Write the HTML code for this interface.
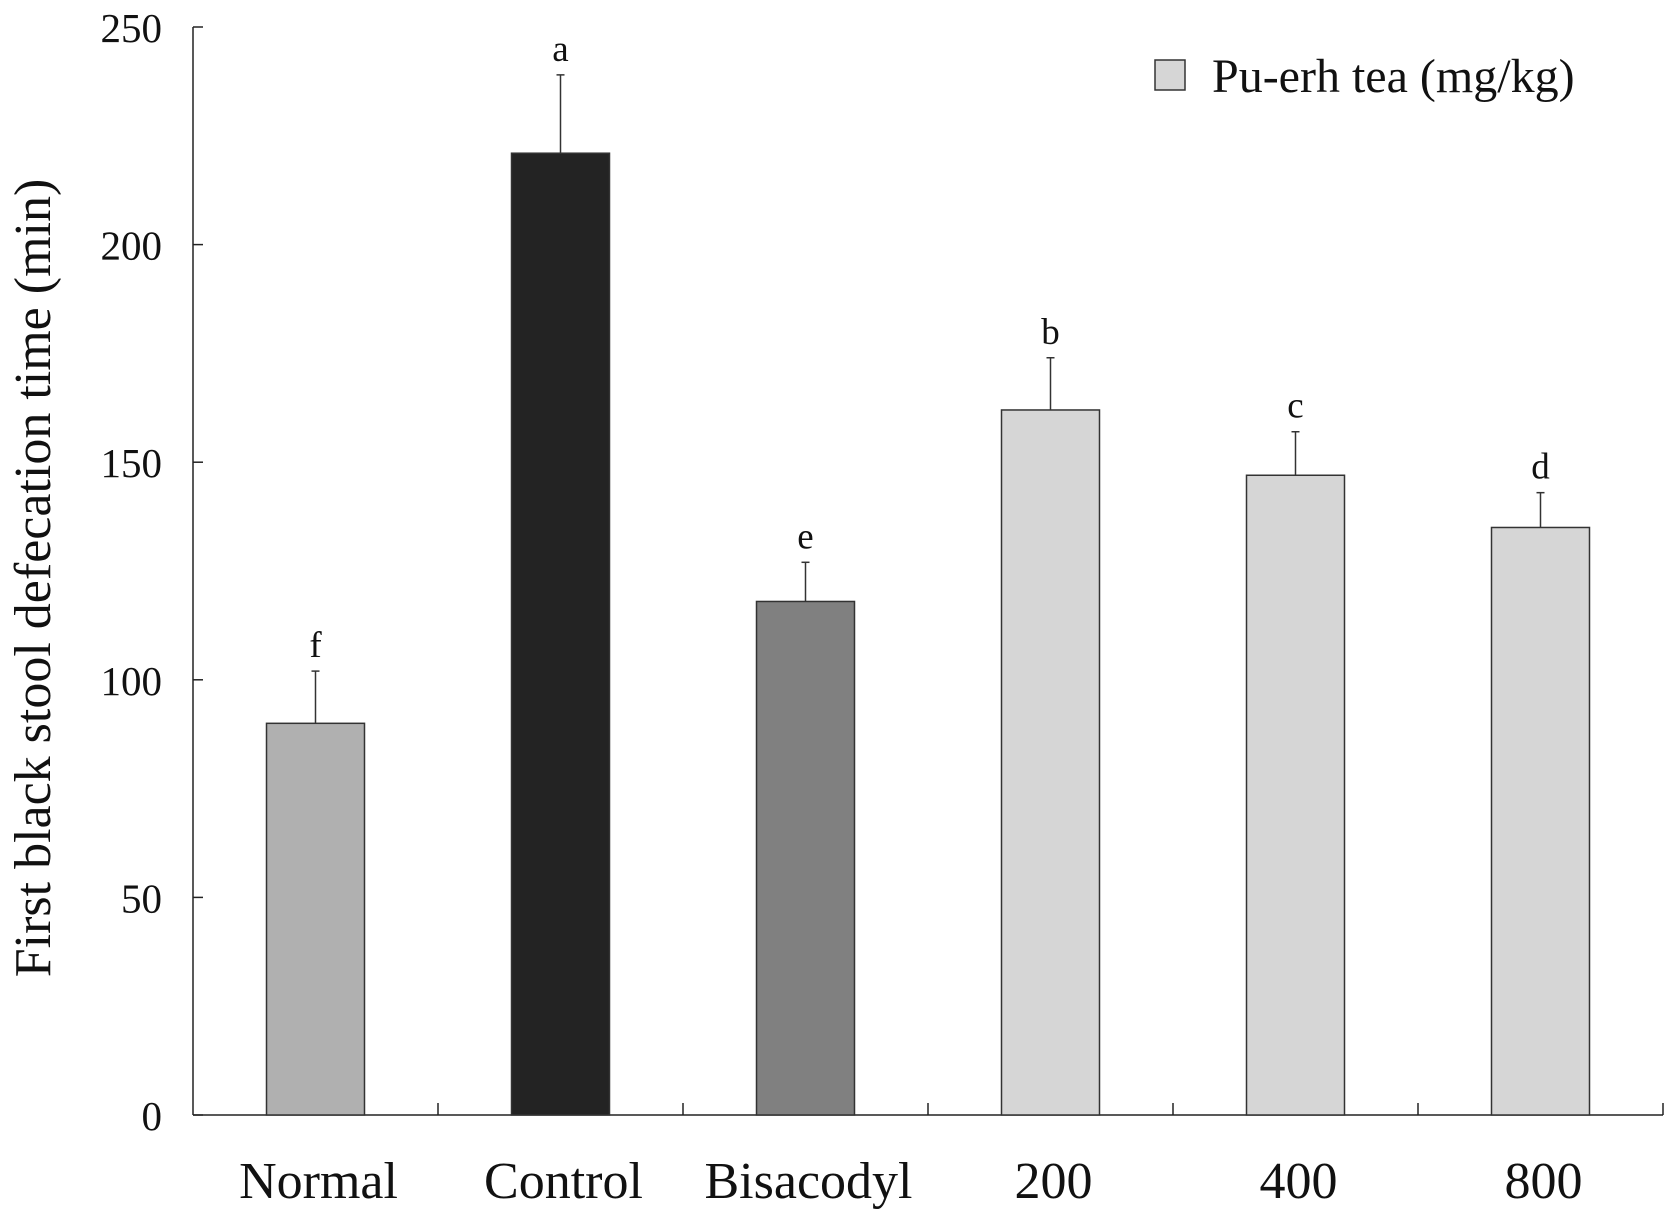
<!DOCTYPE html>
<html><head><meta charset="utf-8"><style>
body{margin:0;background:#fff}
text{font-family:"Liberation Serif",serif;fill:#111}
</style></head><body>
<svg id="chart" width="1677" height="1219" xmlns="http://www.w3.org/2000/svg">
<g id="axes"></g><g id="bars"></g>
<text transform="translate(50,578) rotate(-90)" text-anchor="middle" font-size="52">First black stool defecation time (min)</text>
<rect x="1155" y="60" width="30" height="30" fill="#d6d6d6" stroke="#333" stroke-width="1.5"/>
<text x="1212" y="92" font-size="48">Pu-erh tea (mg/kg)</text>
</svg>
<script>
const categories=["Normal","Control","Bisacodyl","200","400","800"];
const values=[90,221,118,162,147,135];
const errors=[12,18,9,12,10,8];
const letters=["f","a","e","b","c","d"];
const colors=["#b0b0b0","#232323","#808080","#d6d6d6","#d6d6d6","#d6d6d6"];
const yTicks=[0,50,100,150,200,250];
const X0=193,X1=1663,Y0=1115,Y250=27;
const ns="http://www.w3.org/2000/svg";
const bw=(X1-X0)/categories.length;
const y=v=>Y0-(v/250)*(Y0-Y250);
const xc=i=>X0+bw*(i+0.5);
function mk(tag,attrs,parent,txt){const e=document.createElementNS(ns,tag);for(const k in attrs)e.setAttribute(k,attrs[k]);if(txt!==undefined)e.textContent=txt;parent.appendChild(e);return e;}
const ax=document.getElementById('axes'),bg=document.getElementById('bars');
let e=mk('line',{x1:X0,y1:Y250,x2:X0,y2:Y0,stroke:'#222','stroke-width':1.5},ax);


e=mk('line',{x1:X0,y1:Y0,x2:X1,y2:Y0,stroke:'#222','stroke-width':1.5},ax);


yTicks.forEach(t=>{
 let l=mk('line',{x1:X0,y1:y(t),x2:X0+10,y2:y(t),stroke:'#222','stroke-width':1.5},ax);
 
 
 let tx=mk('text',{x:162,y:y(t)+15,'text-anchor':'end','font-size':41},ax,t);
 
 
});
for(let i=1;i<=categories.length;i++){
 let l=mk('line',{x1:X0+bw*i,y1:Y0,x2:X0+bw*i,y2:Y0-12,stroke:'#222','stroke-width':1.5},ax);
 
 
}
categories.forEach((c,i)=>{
 const w=bw*0.4,cx=xc(i);
 let ln=mk('line',{x1:cx,y1:y(values[i]),x2:cx,y2:y(values[i]+errors[i]),stroke:'#333','stroke-width':1.5},bg);
 
 
 let cap=mk('line',{x1:cx-4,y1:y(values[i]+errors[i]),x2:cx+4,y2:y(values[i]+errors[i]),stroke:'#333','stroke-width':1.5},bg);
 
 
 let r=mk('rect',{x:cx-w/2,y:y(values[i]),width:w,height:Y0-y(values[i]),fill:colors[i],stroke:'#333','stroke-width':1.5},bg);
 
 
 let lt=mk('text',{x:cx,y:y(values[i]+errors[i])-14,'text-anchor':'middle','font-size':37},bg,letters[i]);
 
 
 let xl=mk('text',{x:cx+3,y:1198,'text-anchor':'middle','font-size':52},bg,c);
 
 
});
</script>
</body></html>
